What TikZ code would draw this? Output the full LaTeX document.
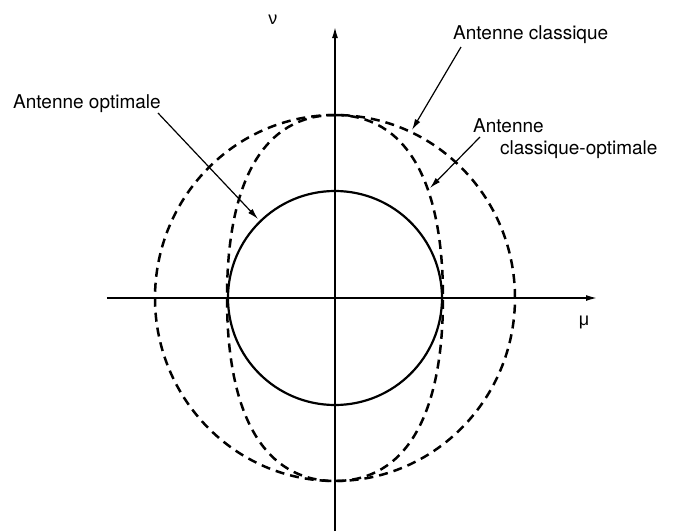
\documentclass[tikz,border=0pt]{standalone}
\usepackage{fontspec}
\setsansfont{TeX Gyre Heros}
\newfontfamily\grk{Liberation Sans}
\usetikzlibrary{arrows.meta}
\tikzset{
  axis/.style={-{Latex[length=11pt,width=6pt]}, line width=1.4pt},
  optcurve/.style={line width=2.2pt},
  dashcurve/.style={line width=2.5pt, dash pattern=on 9pt off 6pt},
  lead/.style={-{Latex[length=11pt,width=6pt]}, line width=1.2pt},
  lbl/.style={font=\sffamily\fontsize{19}{22}\selectfont, inner sep=0pt, align=left},
  axlbl/.style={font=\grk\fontsize{18}{20}\selectfont, inner sep=0pt}
}

\begin{document}
\begin{tikzpicture}[x=1pt,y=1pt]
  \useasboundingbox (-335,-233) rectangle (351,298);
  % axes
  \coordinate (xmin) at (-228,0);
  \coordinate (xmax) at (262,0);
  \coordinate (ymin) at (0,-233);
  \coordinate (ymax) at (0,271);
  \draw[axis] (xmin) -- (xmax);
  \draw[axis] (ymin) -- (ymax);
  \node[axlbl] (mu) at (249,-24) {μ};
  \node[axlbl] (nu) at (-62,278) {ν};

  % curves
  \draw[optcurve] (0,0) circle (107);
  \draw[dashcurve] (0,0) ellipse (180 and 183);
  \draw[dashcurve] (0,183) .. controls (70,183) and (108,119) .. (108,0)
    .. controls (108,-119) and (70,-183) .. (0,-183)
    .. controls (-70,-183) and (-108,-119) .. (-108,0)
    .. controls (-108,119) and (-70,183) .. cycle;

  % labels
  \node[lbl, anchor=base west] (lopt) at (-322,190) {Antenne optimale};
  \node[lbl, anchor=base west] (lcla) at (118,259) {Antenne classique};
  \node[lbl, anchor=base west] (lclo) at (138,144)
    {Antenne\\\hspace*{27pt}classique-optimale};
  \coordinate (popt) at (-77,79);
  \coordinate (pcla) at (77,168);
  \coordinate (pclo) at (95,110);
  \draw[lead] (-177,185) -- (popt);
  \draw[lead] (126,251) -- (pcla);
  \draw[lead] (145,161) -- (pclo);
\end{tikzpicture}
\end{document}
